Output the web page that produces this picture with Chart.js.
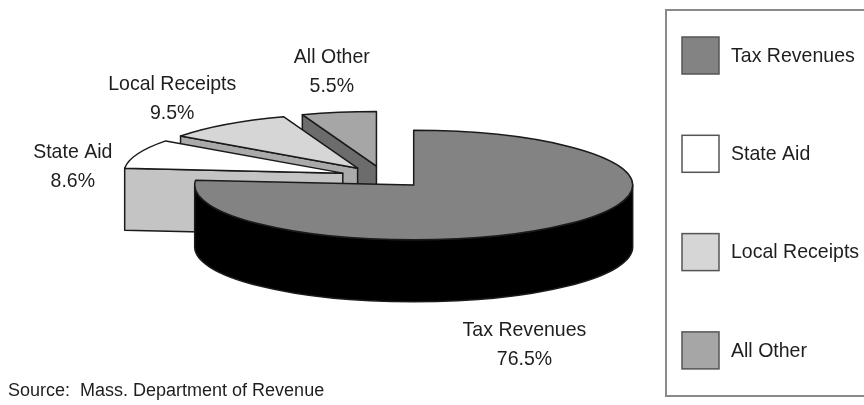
<!DOCTYPE html>
<html>
<head>
<meta charset="utf-8">
<script src="https://cdn.jsdelivr.net/npm/chart.js@4/dist/chart.umd.min.js"></script>
<style>
  html, body { margin: 0; padding: 0; background: #fff; overflow: hidden; }
  #wrap { width: 864px; height: 405px; }
</style>
</head>
<body>
<div id="wrap"><canvas id="myChart" width="864" height="405"></canvas></div>
<script>
const labels = ['Tax Revenues', 'State Aid', 'Local Receipts', 'All Other'];
const shares = [76.5, 8.6, 9.5, 5.5];
const topColors = ['#838383', '#ffffff', '#d6d6d6', '#a6a6a6'];
const sideColors = ['#000000', '#c4c4c4', '#aaaaaa', '#6c6c6c'];

// where each slice label sits, measured from the slice's outer rim
const labelShift = [[-37, 119], [-65, 12], [-54, -26], [-7, -41]];

const FONT = '"Liberation Sans", Arial, Helvetica, sans-serif';
const SQUEEZE = 0.93;   // narrow-ish lettering

function narrowText(ctx, str, x, y) {
  ctx.save();
  ctx.translate(x, y);
  ctx.scale(SQUEEZE, 1);
  ctx.fillText(str, 0, 0);
  ctx.restore();
}

function drawSlice(ctx, s, rx, ry, depth) {
  const { ax, ay, a0, a1 } = s;
  ctx.lineWidth = 1.5;
  ctx.strokeStyle = '#1a1a1a';
  ctx.lineJoin = 'round';

  const wall = function (a) {
    const x = ax + rx * Math.cos(a), y = ay + ry * Math.sin(a);
    ctx.beginPath();
    ctx.moveTo(ax, ay);
    ctx.lineTo(x, y);
    ctx.lineTo(x, y + depth);
    ctx.lineTo(ax, ay + depth);
    ctx.closePath();
    ctx.fillStyle = s.side;
    ctx.fill();
    ctx.stroke();
  };
  // only the cut faces turned towards us
  if (Math.cos(a0) < -1e-6) wall(a0);
  if (Math.cos(a1) > 1e-6) wall(a1);

  // rounded side on the near half
  const f0 = Math.max(a0, 0), f1 = Math.min(a1, Math.PI);
  if (f1 > f0) {
    ctx.beginPath();
    ctx.ellipse(ax, ay, rx, ry, 0, f0, f1);
    ctx.lineTo(ax + rx * Math.cos(f1), ay + ry * Math.sin(f1) + depth);
    ctx.ellipse(ax, ay + depth, rx, ry, 0, f1, f0, true);
    ctx.closePath();
    ctx.fillStyle = s.side;
    ctx.fill();
    ctx.stroke();
  }

  // top face
  ctx.beginPath();
  ctx.moveTo(ax, ay);
  ctx.ellipse(ax, ay, rx, ry, 0, a0, a1);
  ctx.closePath();
  ctx.fillStyle = s.top;
  ctx.fill();
  ctx.stroke();
}

const pie3d = {
  id: 'pie3d',
  beforeDatasetsDraw(chart, args, opts) {
    const ctx = chart.ctx;
    const area = chart.chartArea;
    const meta = chart.getDatasetMeta(0);
    const depth = opts.depth, tilt = opts.tilt;

    const slices = meta.data.map(function (arc, i) {
      const p = arc.getProps(['x', 'y', 'startAngle', 'endAngle'], true);
      const off = arc.options.offset || 0;
      const rx = area.width / 2 - off;
      const ry = rx * tilt;
      const cy = p.y - depth / 2;
      const mid = (p.startAngle + p.endAngle) / 2;
      return {
        i: i, rx: rx, ry: ry, mid: mid,
        a0: p.startAngle, a1: p.endAngle,
        ax: p.x + Math.cos(mid) * off,
        ay: cy + Math.sin(mid) * off * tilt,
        rimX: p.x + Math.cos(mid) * (rx + off),
        rimY: cy + Math.sin(mid) * (ry + off * tilt),
        top: topColors[i],
        side: sideColors[i]
      };
    });

    // paint from back to front
    slices.slice().sort((a, b) => a.rimY - b.rimY).forEach(function (s) {
      ctx.save();
      drawSlice(ctx, s, s.rx, s.ry, depth);
      ctx.restore();
    });

    // category name and share beside every slice
    ctx.save();
    ctx.fillStyle = '#1e1e1e';
    ctx.textAlign = 'center';
    ctx.textBaseline = 'middle';
    ctx.font = '21px ' + FONT;
    slices.forEach(function (s) {
      const x = s.rimX + labelShift[s.i][0];
      const y = s.rimY + labelShift[s.i][1];
      narrowText(ctx, labels[s.i], x, y - 14);
      narrowText(ctx, shares[s.i].toFixed(1) + '%', x, y + 15);
    });
    ctx.restore();
    return false;
  },
  afterDraw(chart) {
    const ctx = chart.ctx;
    ctx.save();
    // legend frame
    ctx.strokeStyle = '#8a8a8a';
    ctx.lineWidth = 2;
    ctx.strokeRect(666, 10, 240, 386);

    ctx.font = '21px ' + FONT;
    ctx.textAlign = 'left';
    ctx.textBaseline = 'middle';
    labels.forEach(function (name, i) {
      const y = 37 + i * 98.3;
      ctx.fillStyle = topColors[i];
      ctx.fillRect(682, y, 37, 37);
      ctx.lineWidth = 1.5;
      ctx.strokeStyle = '#555';
      ctx.strokeRect(682, y, 37, 37);
      ctx.fillStyle = '#1e1e1e';
      narrowText(ctx, name, 731, y + 19);
    });

    ctx.font = '18px ' + FONT;
    ctx.textBaseline = 'alphabetic';
    ctx.fillStyle = '#1e1e1e';
    ctx.fillText('Source:  Mass. Department of Revenue', 8, 396);
    ctx.restore();
  }
};

new Chart(document.getElementById('myChart'), {
  type: 'pie',
  data: {
    labels: labels,
    datasets: [{
      data: shares,
      backgroundColor: topColors,
      borderWidth: 0,
      offset: 44
    }]
  },
  options: {
    responsive: false,
    animation: false,
    layout: { padding: { left: 121, right: 217, top: 100, bottom: 89 } },
    plugins: {
      legend: { display: false },
      tooltip: { enabled: false },
      pie3d: { depth: 62, tilt: 0.25 }
    }
  },
  plugins: [pie3d]
});
</script>
</body>
</html>
